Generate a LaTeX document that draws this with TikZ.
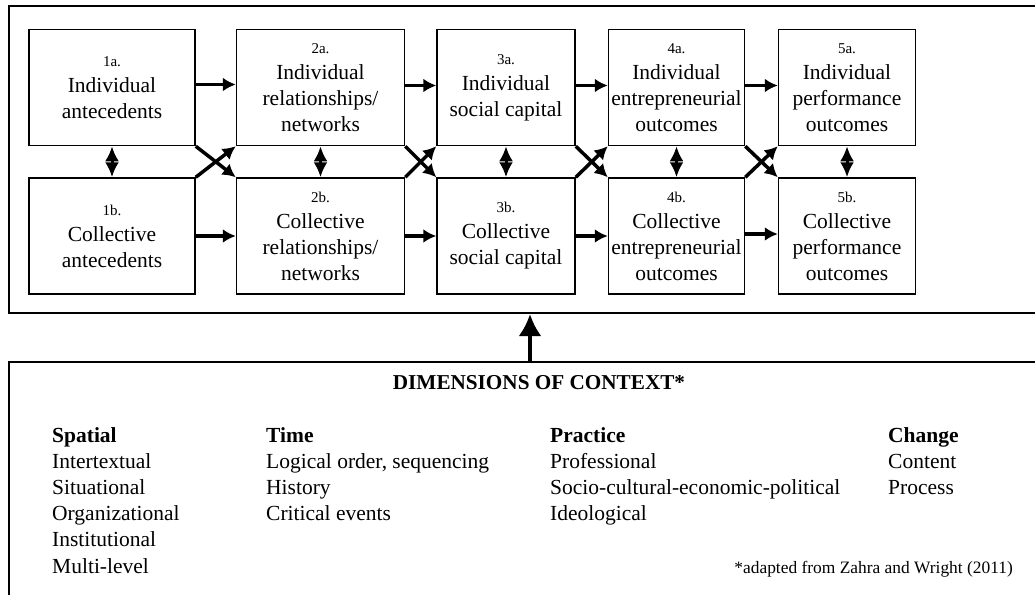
\documentclass[tikz,border=0pt]{standalone}
\usepackage{fontspec}
\setmainfont{Liberation Serif}
\usetikzlibrary{positioning,arrows.meta}

\newcommand{\stage}[1]{{\fontsize{15}{18}\selectfont #1}}

\tikzset{
  block/.style={rectangle, draw, line width=1.5pt, align=center,
    minimum height=116pt, inner sep=2pt,
    font=\fontsize{21.5}{26}\selectfont},
  line/.style={draw, line width=3.5pt, -{Latex[length=13pt,width=14pt]}},
  both/.style={draw, line width=3pt,
    {Latex[length=15pt,width=14pt]}-{Latex[length=15pt,width=14pt]}},
  uparrow/.style={draw, line width=4pt, -{Latex[length=22pt,width=23pt]}},
  frame/.style={rectangle, draw, line width=2pt, minimum width=1042pt},
  heading/.style={font=\bfseries\fontsize{21.2}{26}\selectfont},
  dimlist/.style={align=left, inner sep=0pt, anchor=north west,
    font=\fontsize{21.5}{26.2}\selectfont},
}

\begin{document}
\begin{tikzpicture}[x=1pt, y=-1pt]
    \useasboundingbox (0,0) rectangle (1035,594);
    \clip (0,0) rectangle (1035,594);
    % Frames
    \node [frame, minimum height=307pt] (upper) at (530,159.5) {};
    \node [frame, minimum height=238pt] (lower) at (530,481) {};
    % Place nodes
    \node [block, minimum width=166pt] (1a) at (112,87.5)
        {\stage{1a.}\\Individual\\antecedents};
    \node [block, minimum width=168pt, right=40pt of 1a] (2a)
        {\stage{2a.}\\Individual\\relationships/\\networks};
    \node [block, minimum width=138pt, right=31pt of 2a] (3a)
        {\stage{3a.}\\Individual\\social capital};
    \node [block, minimum width=136pt, right=32pt of 3a] (4a)
        {\stage{4a.}\\Individual\\entrepreneurial\\outcomes};
    \node [block, minimum width=137pt, right=32.5pt of 4a] (5a)
        {\stage{5a.}\\Individual\\performance\\outcomes};
    \node [block, minimum width=166pt, below=31pt of 1a] (1b)
        {\stage{1b.}\\Collective\\antecedents};
    \node [block, minimum width=168pt, below=31pt of 2a] (2b)
        {\stage{2b.}\\Collective\\relationships/\\networks};
    \node [block, minimum width=138pt, below=31pt of 3a] (3b)
        {\stage{3b.}\\Collective\\social capital};
    \node [block, minimum width=136pt, below=31pt of 4a] (4b)
        {\stage{4b.}\\Collective\\entrepreneurial\\outcomes};
    \node [block, minimum width=137pt, below=31pt of 5a] (5b)
        {\stage{5b.}\\Collective\\performance\\outcomes};
    % Draw edges
    \path [line] ([yshift=3pt]1a.east) -- ([yshift=3pt]2a.west);
    \path [line] ([yshift=2pt]2a.east) -- ([yshift=2pt]3a.west);
    \path [line] ([yshift=2pt]3a.east) -- ([yshift=2pt]4a.west);
    \path [line] ([yshift=2pt]4a.east) -- ([yshift=2pt]5a.west);
    \path [line] (1b) -- (2b);
    \path [line] (2b) -- (3b);
    \path [line] (3b) -- (4b);
    \path [line] ([yshift=2pt]4b.east) -- ([yshift=2pt]5b.west);
    \path [line] (1a.south east) -- (2b.north west);
    \path [line] (1b.north east) -- (2a.south west);
    \path [line] (2a.south east) -- (3b.north west);
    \path [line] (2b.north east) -- (3a.south west);
    \path [line] (3a.south east) -- (4b.north west);
    \path [line] (3b.north east) -- (4a.south west);
    \path [line] (4a.south east) -- (5b.north west);
    \path [line] (4b.north east) -- (5a.south west);
    \path [both] (1a) -- (1b);
    \path [both] (2a) -- (2b);
    \path [both] (3a) -- (3b);
    \path [both] (4a) -- (4b);
    \path [both] (5a) -- (5b);
    \path [uparrow] (lower.north) -- (upper.south);
    % Context dimensions
    \node [heading] (dims) at (539,383) {DIMENSIONS OF CONTEXT*};
    \node [dimlist] (spatial) at (52,427)
        {\textbf{Spatial}\\Intertextual\\Situational\\Organizational\\Institutional\\Multi-level};
    \node [dimlist] (time) at (266,427)
        {\textbf{Time}\\Logical order, sequencing\\History\\Critical events};
    \node [dimlist] (practice) at (550,427)
        {\textbf{Practice}\\Professional\\Socio-cultural-economic-political\\Ideological};
    \node [dimlist] (change) at (888,427)
        {\textbf{Change}\\Content\\Process};
    \node [anchor=base east, inner sep=0pt, font=\fontsize{17.4}{20}\selectfont] (source) at (1013,573)
        {*adapted from Zahra and Wright (2011)};
\end{tikzpicture}
\end{document}
